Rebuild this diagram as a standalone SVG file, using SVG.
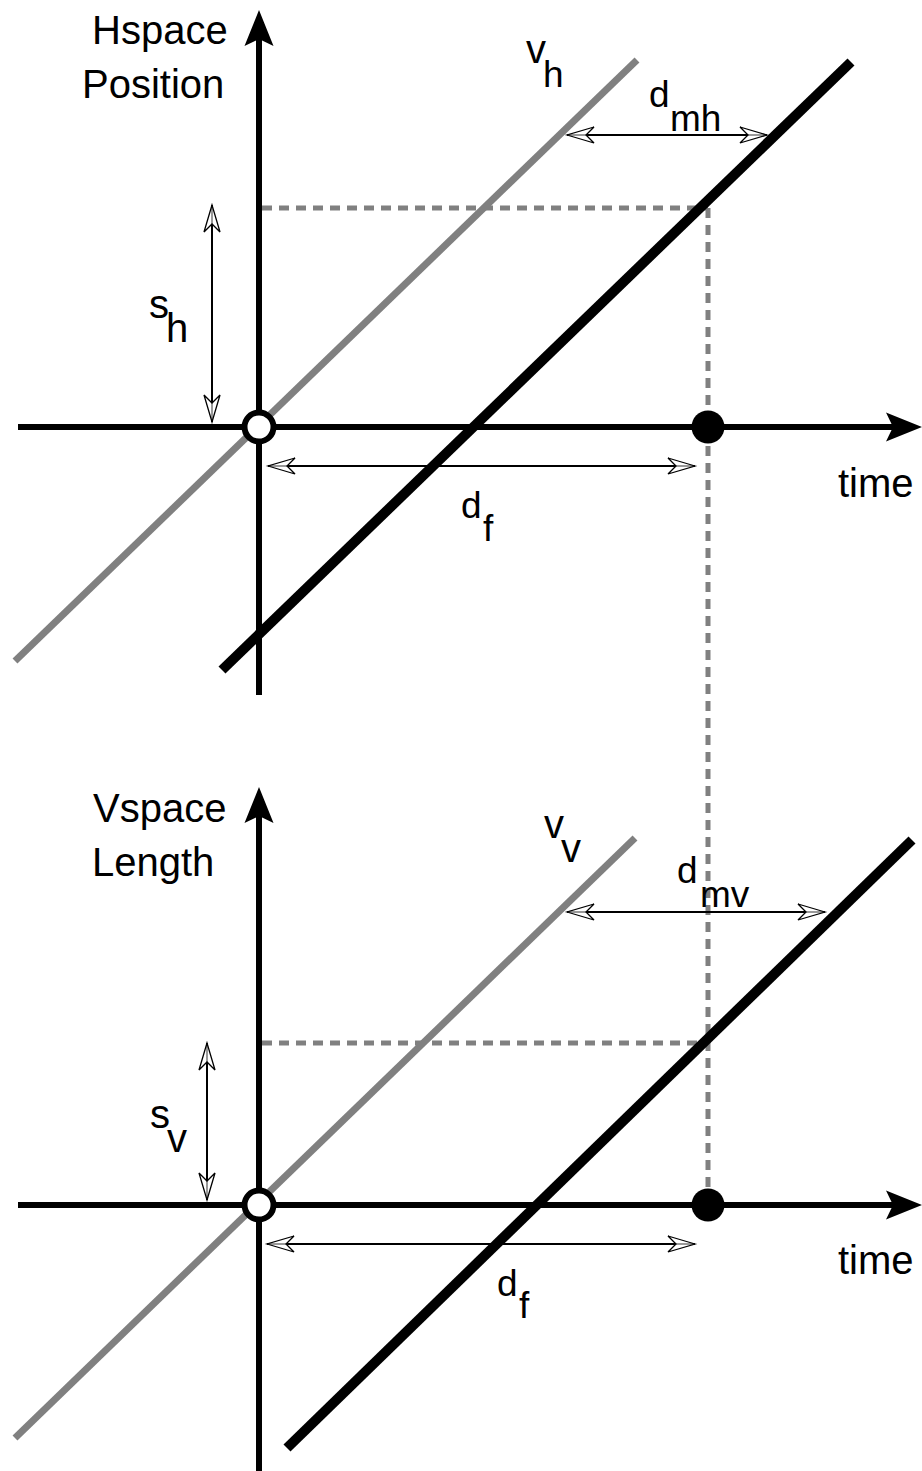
<svg xmlns="http://www.w3.org/2000/svg" width="922" height="1471" viewBox="0 0 922 1471">
<style>
.axis{stroke:#000;stroke-width:6;fill:none}
.gray{stroke:#808080;stroke-width:7;fill:none}
.blk{stroke:#000;stroke-width:10;fill:none}
.dash{stroke:#808080;stroke-width:5;stroke-dasharray:10 7;fill:none}
.dim{stroke:#000;stroke-width:2;fill:none;marker-start:url(#oh);marker-end:url(#oh)}
.ax{marker-end:url(#ah)}
text{font-family:"Liberation Sans",Arial,sans-serif;font-size:40px;fill:#000}
.lb{font-size:37px}
</style>
<defs>
<marker id="ah" markerUnits="userSpaceOnUse" markerWidth="44" markerHeight="34" viewBox="-10 -17 44 34" refX="0" refY="0" orient="auto">
<path d="M29,0 L-7,-14.5 L0,0 L-7,14.5 Z" fill="#000"/>
</marker>
<marker id="oh" markerUnits="userSpaceOnUse" markerWidth="34" markerHeight="24" viewBox="-30 -12 34 24" refX="0" refY="0" orient="auto-start-reverse">
<path d="M0,0 L-27,-8 L-19,0 L-27,8 Z" fill="#fff" fill-opacity="0.6" stroke="#000" stroke-width="1.3" stroke-linejoin="miter"/>
</marker>
</defs>

<g id="connectors">
<line class="dash" x1="262" y1="208" x2="708" y2="208"/>
<line class="dash" x1="708" y1="208" x2="708" y2="1190"/>
<line class="dash" x1="262" y1="1043" x2="708" y2="1043"/>
<line class="gray" x1="15" y1="661" x2="637" y2="60"/>
<line class="blk" x1="222" y1="670" x2="851" y2="62"/>
<line class="axis ax" x1="18" y1="427" x2="893" y2="427"/>
<line class="axis ax" x1="259" y1="695" x2="259" y2="39"/>
<line class="dim" x1="212" y1="205" x2="212" y2="422"/>
<line class="dim" x1="268" y1="466" x2="695" y2="466"/>
<line class="dim" x1="567" y1="135" x2="767" y2="135"/>
<line class="gray" x1="15" y1="1438" x2="635" y2="838"/>
<line class="blk" x1="287" y1="1448" x2="912" y2="840"/>
<line class="axis ax" x1="18" y1="1205" x2="893" y2="1205"/>
<line class="axis ax" x1="259" y1="1471" x2="259" y2="816"/>
<line class="dim" x1="207" y1="1043" x2="207" y2="1200"/>
<line class="dim" x1="267" y1="1244" x2="695" y2="1244"/>
<line class="dim" x1="567" y1="912" x2="825" y2="912"/>
</g>

<g id="origin-top"><circle cx="259" cy="427" r="14.5" fill="#fff" stroke="#000" stroke-width="6"/></g>
<g id="point-top"><circle cx="708" cy="427" r="16.5" fill="#000"/></g>
<g id="origin-bottom"><circle cx="259" cy="1205" r="14.5" fill="#fff" stroke="#000" stroke-width="6"/></g>
<g id="point-bottom"><circle cx="708" cy="1205" r="16.5" fill="#000"/></g>

<g id="labels-top">
<text x="92" y="44">Hspace</text>
<text x="82" y="98">Position</text>
<text x="838" y="497">time</text>
<text x="526" y="63">v</text>
<text class="lb" x="543" y="87">h</text>
<text class="lb" x="649" y="107">d</text>
<text class="lb" x="670" y="131">mh</text>
<text x="149" y="318">s</text>
<text x="166" y="342">h</text>
<text class="lb" x="461" y="518">d</text>
<text class="lb" x="483" y="541">f</text>
</g>

<g id="labels-bottom">
<text x="93" y="822">Vspace</text>
<text x="92" y="876">Length</text>
<text x="838" y="1274">time</text>
<text x="544" y="838">v</text>
<text x="561" y="862">v</text>
<text class="lb" x="677" y="883">d</text>
<text class="lb" x="700" y="907">mv</text>
<text x="150" y="1128">s</text>
<text x="167" y="1152">v</text>
<text class="lb" x="497" y="1296">d</text>
<text class="lb" x="519" y="1318">f</text>
</g>
</svg>
